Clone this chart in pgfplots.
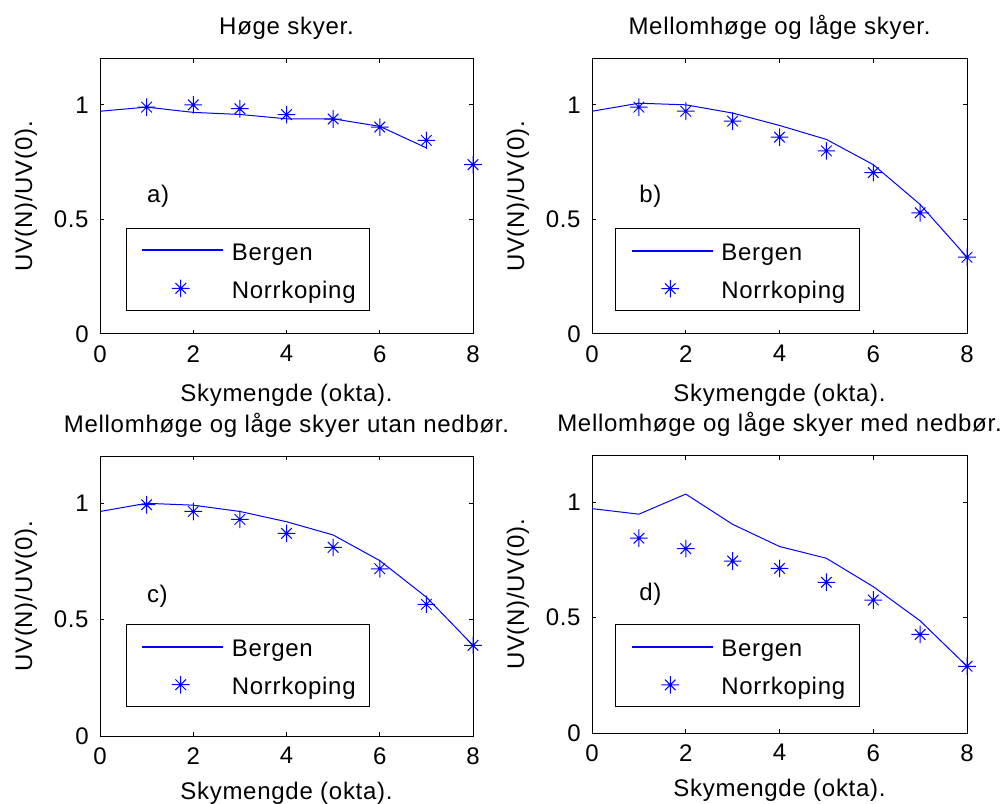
\documentclass[border=0pt]{standalone}
\usepackage{fontspec}
\setmainfont{Liberation Sans}[LetterSpace=3]
\usepackage{pgfplots}
\pgfplotsset{compat=1.18}
\definecolor{mblue}{rgb}{0,0,1}

\pgfdeclareplotmark{mstar}{%
  \pgfpathmoveto{\pgfqpoint{-\pgfplotmarksize}{0pt}}\pgfpathlineto{\pgfqpoint{\pgfplotmarksize}{0pt}}%
  \pgfpathmoveto{\pgfqpoint{0pt}{-\pgfplotmarksize}}\pgfpathlineto{\pgfqpoint{0pt}{\pgfplotmarksize}}%
  \pgfpathmoveto{\pgfqpoint{-0.6\pgfplotmarksize}{-0.6\pgfplotmarksize}}\pgfpathlineto{\pgfqpoint{0.6\pgfplotmarksize}{0.6\pgfplotmarksize}}%
  \pgfpathmoveto{\pgfqpoint{-0.6\pgfplotmarksize}{0.6\pgfplotmarksize}}\pgfpathlineto{\pgfqpoint{0.6\pgfplotmarksize}{-0.6\pgfplotmarksize}}%
  \pgfusepathqstroke}

\pgfplotsset{
  mstyle/.style={
    scale only axis,
    xmin=0, xmax=8, ymin=0, ymax=1.2,
    xtick={0,2,4,6,8}, ytick={0,0.5,1}, yticklabels={0,0.5,1},
    tick align=inside, tick pos=both, major tick length=2pt,
    axis line style={line width=0.5pt, black},
    every tick/.style={black, line width=0.5pt},
    /pgf/number format/assume math mode=true,
    xticklabel style={inner sep=0pt, anchor=north, yshift=-5.5pt},
    yticklabel style={inner sep=0pt, anchor=east, xshift=-5.5pt},
    xlabel={Skymengde (okta).}, ylabel={UV(N)/UV(0).},
    every axis x label/.style={at={(axis description cs:0.5,0)}, anchor=north, inner sep=0pt, yshift=-25pt},
    every axis y label/.style={at={([xshift=-37pt]axis description cs:0,0.5)}, rotate=90, anchor=center, inner sep=0pt},
    every axis title/.style={at={(axis description cs:0.5,1)}, anchor=base, inner sep=0pt, yshift=12pt},
    legend cell align=left,
    legend style={draw=black, line width=0.5pt, fill=white, anchor=north west,
      inner xsep=7pt, inner ysep=4pt, row sep=5pt, column sep=4.3pt,
      nodes={inner sep=0pt, text height=12pt, text depth=2pt}},
  },
  bline/.style={draw=mblue, color=mblue, line width=0.5pt, mark=none,
    legend image code/.code={\path (0pt,0pt); \fill[mblue] (1pt,-0.22pt) rectangle (41pt,0.22pt);}},
  nmark/.style={draw=mblue, color=mblue, only marks, mark=mstar, mark size=4.4pt, line width=0.5pt,
    legend image code/.code={\path (0pt,0pt) (41pt,0pt); \draw[draw=mblue, color=mblue, line width=0.5pt, mark=mstar, mark size=4.4pt, only marks] plot coordinates {(20pt,0pt)};}},
}

\begin{document}
\fontsize{12}{14.4}\selectfont
\begin{tikzpicture}
% a
\begin{axis}[mstyle, at={(50pt,234.5pt)}, anchor=south west, width=186.5pt, height=137.5pt,
  title={Høge skyer.}, legend style={at={(0.069,0.386)}}]
\addplot[bline] coordinates {(0,0.972)(1,0.990)(2,0.967)(3,0.958)(4,0.939)(5,0.939)(6,0.906)(7,0.812)};
\addplot[nmark] coordinates {(1,0.990)(2,1.000)(3,0.983)(4,0.957)(5,0.938)(6,0.903)(7,0.845)(8,0.739)};
\legend{Bergen,Norrkoping}
\node[anchor=west, inner sep=0pt] at (axis cs:1,0.6) {a)};
\end{axis}
% b
\begin{axis}[mstyle, at={(296pt,234.5pt)}, anchor=south west, width=187.5pt, height=137.5pt,
  title={Mellomhøge og låge skyer.}, legend style={at={(0.062,0.385)}}]
\addplot[bline] coordinates {(0,0.972)(1,1.007)(2,1.000)(3,0.964)(4,0.910)(5,0.849)(6,0.739)(7,0.565)(8,0.335)};
\addplot[nmark] coordinates {(1,0.990)(2,0.972)(3,0.929)(4,0.859)(5,0.799)(6,0.704)(7,0.529)(8,0.335)};
\legend{Bergen,Norrkoping}
\node[anchor=west, inner sep=0pt] at (axis cs:1,0.6) {b)};
\end{axis}
% c
\begin{axis}[mstyle, at={(50pt,33.5pt)}, anchor=south west, width=186.5pt, height=139.75pt,
  title={Mellomhøge og låge skyer utan nedbør.}, legend style={at={(0.069,0.40)}},
  every axis x label/.append style={yshift=2pt}]
\addplot[bline] coordinates {(0,0.964)(1,0.999)(2,0.991)(3,0.964)(4,0.920)(5,0.863)(6,0.753)(7,0.596)(8,0.389)};
\addplot[nmark] coordinates {(1,0.993)(2,0.964)(3,0.930)(4,0.870)(5,0.810)(6,0.718)(7,0.565)(8,0.389)};
\legend{Bergen,Norrkoping}
\node[anchor=west, inner sep=0pt] at (axis cs:1,0.6) {c)};
\end{axis}
% d
\begin{axis}[mstyle, at={(296pt,35pt)}, anchor=south west, width=187.5pt, height=138.5pt,
  title={Mellomhøge og låge skyer med nedbør.}, legend style={at={(0.062,0.392)}},
  every axis x label/.append style={yshift=2pt}]
\addplot[bline] coordinates {(0,0.972)(1,0.948)(2,1.035)(3,0.904)(4,0.808)(5,0.757)(6,0.634)(7,0.486)(8,0.289)};
\addplot[nmark] coordinates {(1,0.844)(2,0.799)(3,0.745)(4,0.713)(5,0.653)(6,0.576)(7,0.427)(8,0.289)};
\legend{Bergen,Norrkoping}
\node[anchor=west, inner sep=0pt] at (axis cs:1,0.6) {d)};
\end{axis}
\pgfresetboundingbox
\useasboundingbox (0,0) rectangle (503pt,401.5pt);
\end{tikzpicture}
\end{document}
